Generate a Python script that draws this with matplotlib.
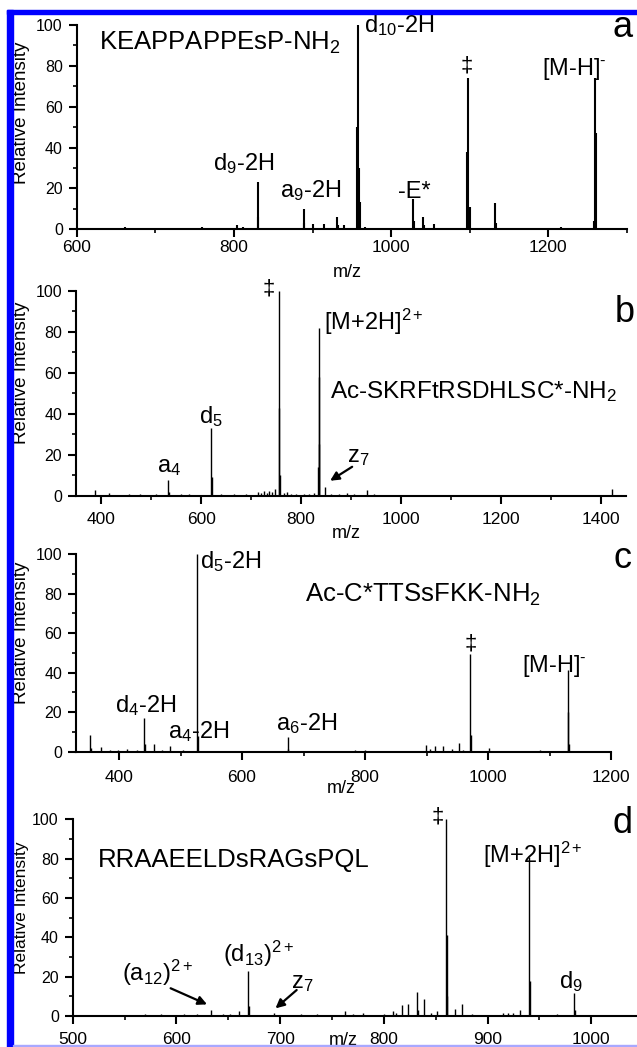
import matplotlib
matplotlib.use("Agg")
import matplotlib.pyplot as plt
from matplotlib.patches import Rectangle
from matplotlib.ticker import MultipleLocator

plt.rcParams["font.family"] = ["Liberation Sans", "DejaVu Sans"]
plt.rcParams["mathtext.fontset"] = "custom"
plt.rcParams["mathtext.rm"] = "Liberation Sans"
plt.rcParams["mathtext.it"] = "Liberation Sans:italic"
plt.rcParams["mathtext.bf"] = "Liberation Sans:bold"

# ---- peak lists (m/z, relative intensity) ----
mz_a = [661, 664, 680, 759, 768, 786, 803.7, 811, 817, 830, 831, 860.5, 870, 878,
        888.5, 889.5, 900, 914, 931, 932, 940.5, 956.8, 958, 959, 960.5, 967, 975,
        1000, 1021, 1027.5, 1028.5, 1041, 1042, 1055, 1097, 1098, 1100, 1132, 1133,
        1143, 1180, 1215.5, 1258.6, 1259.4, 1260.3]
int_a = [1.2, 0.8, 0.6, 1.0, 0.8, 0.7, 2.2, 1.0, 0.5, 23.3, 6, 0.7, 0.5, 0.6,
         9.8, 3, 2.5, 2.5, 6.2, 2, 2, 50, 100, 30, 13.5, 1.2, 0.6,
         0.8, 0.5, 14.7, 4, 5.9, 2, 2.6, 38, 74, 11, 12.7, 3,
         0.5, 0.3, 1.0, 4, 74, 47]

mz_b = [388, 416, 455, 478, 510, 534.6, 535.5, 560, 575, 620, 621, 640, 665, 690,
        714, 720, 726, 731, 736, 742, 747, 756, 756.5, 757.3, 765, 772.5, 780, 790,
        805.6, 815.5, 825, 834.4, 835.4, 835.9, 836.4, 848.7, 860, 875, 892, 905,
        932, 945.5, 960, 1010, 1421]
int_b = [2.8, 1.5, 0.8, 0.6, 0.7, 7.7, 2, 1.0, 0.7, 32.9, 9, 0.8, 0.7, 1.0,
         2, 1.5, 2.5, 1.5, 2.5, 2, 3.5, 100, 43, 10, 1.2, 2, 1.0, 0.8,
         1.0, 1.0, 1.5, 14, 82, 58, 25, 4.1, 1.0, 0.8, 1.5, 0.8,
         3, 1.0, 0.5, 0.3, 3.5]

mz_c = [353.5, 354.5, 371.4, 385, 398.4, 413, 430, 440.7, 441.7, 456.5, 470, 482.5,
        504, 527, 528, 545, 600, 650, 674, 675, 700, 735, 760, 783.6, 800, 830, 870,
        899, 906, 913, 926.4, 941.7, 953.6, 960, 971, 972, 1001.6, 1040, 1084.5,
        1110, 1129.7, 1130.7, 1131.7]
int_c = [8.4, 2, 2.5, 0.8, 0.8, 1.2, 0.8, 17.2, 4, 3.9, 0.7, 2.9,
         1.0, 100, 8, 0.5, 0.4, 0.5, 7.3, 1.5, 0.5, 0.5, 0.4, 0.8, 1.0, 0.5, 0.6,
         3.4, 1.2, 3, 2.8, 1.5, 4.2, 1.0, 49.4, 8.5, 2, 0.4, 1.0,
         0.4, 41.3, 20, 4]

mz_d = [555, 570, 585, 600, 607, 620, 633.6, 645, 652, 660.2, 668.9, 669.5, 685,
        694.3, 710, 720, 735.5, 750, 762.9, 770, 779.7, 790, 800, 809.2, 812, 817.7,
        823.6, 831.5, 832.5, 838.5, 845, 851, 860, 860.6, 861.3, 868.7, 875.7, 885,
        900, 914.9, 919.6, 924.3, 931.4, 940, 940.6, 950, 966.7, 983.6, 984.3,
        1000, 1020]
int_d = [0.7, 1.0, 0.8, 0.6, 1.0, 0.8, 3, 1.0, 0.8, 2.5, 23, 5, 0.6,
         1.5, 0.6, 0.8, 1.0, 0.6, 2.5, 0.8, 1.5, 0.7, 1.0, 2.5, 1.5, 5.5,
         6, 12, 3, 8.5, 1.5, 2.5, 100, 41, 10, 3.5, 6, 0.8,
         0.6, 1.5, 1.5, 1.5, 3, 81, 18, 0.6, 0.8, 11.5, 3,
         0.4, 0.3]

# ---- annotations: (text, m/z, intensity) ----
labels_a = [
    (r"d$_{\mathregular{9}}$-2H", 773, 29),
    (r"a$_{\mathregular{9}}$-2H", 858, 15.8),
    (r"d$_{\mathregular{10}}$-2H", 965, 96.7),
    (r"-E*", 1009, 15.3),
    (r"[M-H]$^{\text{-}}$", 1192, 75.5),
]
dagger_a = (1096.6, 74.7)
peptide_a = (r"KEAPPAPPEsP-NH$_{\mathregular{2}}$", 629, 87.8, 18.5)

labels_b = [
    (r"a$_{\mathregular{4}}$", 511, 11.7),
    (r"d$_{\mathregular{5}}$", 596, 35.3),
    (r"[M+2H]$^{\mathregular{2+}}$", 845, 80.8),
    (r"z$_{\mathregular{7}}$", 892, 16.4),
]
dagger_b = (736, 95.5)
peptide_b = (r"Ac-SKRFtRSDHLSC*-NH$_{\mathregular{2}}$", 858, 47.5, 17.5)
arrows_b = [((902, 14.1), (858, 7.3))]

labels_c = [
    (r"d$_{\mathregular{4}}$-2H", 393.5, 20.2),
    (r"a$_{\mathregular{4}}$-2H", 479.7, 6.8),
    (r"d$_{\mathregular{5}}$-2H", 531.8, 92.8),
    (r"a$_{\mathregular{6}}$-2H", 655.4, 11),
    (r"[M-H]$^{\text{-}}$", 1055.7, 40.5),
]
dagger_c = (971.6, 49.4)
peptide_c = (r"Ac-C*TTSsFKK-NH$_{\mathregular{2}}$", 702.6, 75.9, 18.5)

labels_d = [
    (r"(a$_{\mathregular{12}}$)$^{\mathregular{2+}}$", 547.6, 17.8),
    (r"(d$_{\mathregular{13}}$)$^{\mathregular{2+}}$", 645, 27.5),
    (r"z$_{\mathregular{7}}$", 710, 14.1),
    (r"[M+2H]$^{\mathregular{2+}}$", 895.3, 77.8),
    (r"d$_{\mathregular{9}}$", 968.6, 14.1),
]
dagger_d = (852, 95.6)
peptide_d = ("RRAAEELDsRAGsPQL", 523.9, 75.9, 18.5)
arrows_d = [((594.4, 14.1), (629.5, 5.9)), ((715.9, 13.2), (695.5, 3.9))]

W, H = 637, 1047
fig = plt.figure(figsize=(W / 100, H / 100), dpi=100)


def rect(left, right, top, bottom):
    return [left / W, 1 - bottom / H, (right - left) / W, (bottom - top) / H]


panels = [
    dict(r=rect(76.7, 627, 25, 229.3), xlim=(600, 1300), step=200, mz=mz_a, it=int_a,
         labels=labels_a, dagger=dagger_a, pep=peptide_a, arrows=[], lw=1.5,
         xpad=2, xl=(0.491, -0.172), yl=(30, 0.57), ylfs=13.5,
         letter=("a", 613, 37)),
    dict(r=rect(76, 626.3, 290.7, 495.7), xlim=(350, 1450), step=200, mz=mz_b, it=int_b,
         labels=labels_b, dagger=dagger_b, pep=peptide_b, arrows=arrows_b, lw=1.0,
         xpad=6, xl=(0.492, -0.142), yl=(30, 0.6), ylfs=13.5,
         letter=("b", 615, 321.7)),
    dict(r=rect(76, 611, 554, 751.7), xlim=(330, 1200), step=200, mz=mz_c, it=int_c,
         labels=labels_c, dagger=dagger_c, pep=peptide_c, arrows=[], lw=1.0,
         xpad=7.5, xl=(0.495, -0.142), yl=(30, 0.6), ylfs=13.5,
         letter=("c", 613.7, 568.3)),
    dict(r=rect(72.7, 637, 819.3, 1016), xlim=(500, 1044), step=100, mz=mz_d, it=int_d,
         labels=labels_d, dagger=dagger_d, pep=peptide_d, arrows=arrows_d, lw=1.0,
         xpad=6, xl=(0.479, -0.08), yl=(29, 0.55), ylfs=12.5,
         letter=("d", 613, 833.3)),
]

ION_FS = 17

for p in panels:
    ax = fig.add_axes(p["r"])
    ax.vlines(p["mz"], 0, p["it"], color="k", lw=p["lw"])
    ax.set_xlim(*p["xlim"])
    ax.set_ylim(0, 100)
    for s in ("top", "right"):
        ax.spines[s].set_visible(False)
    for s in ("left", "bottom"):
        ax.spines[s].set_linewidth(1.5)
    ax.xaxis.set_major_locator(MultipleLocator(p["step"]))
    ax.xaxis.set_minor_locator(MultipleLocator(p["step"] / 2))
    ax.yaxis.set_major_locator(MultipleLocator(20))
    ax.yaxis.set_minor_locator(MultipleLocator(10))
    ax.tick_params(which="major", direction="out", length=5.5, width=1.5)
    ax.tick_params(which="minor", direction="out", length=3, width=1.2)
    ax.tick_params(axis="x", which="major", pad=p["xpad"], labelsize=12.5)
    ax.tick_params(axis="y", which="major", pad=4.5, labelsize=11.5)
    ax.set_xlabel("m/z", fontsize=13)
    ax.xaxis.set_label_coords(*p["xl"])
    ax.set_ylabel("Relative Intensity", fontsize=p["ylfs"])
    # label x given in figure pixels, converted to axes fraction
    ax_left = p["r"][0] * W
    ax_w = p["r"][2] * W
    ax.yaxis.set_label_coords((p["yl"][0] - ax_left) / ax_w, p["yl"][1])

    for txt, x, y in p["labels"]:
        ax.text(x, y, txt, fontsize=ION_FS, ha="left", va="baseline")
    ax.text(p["dagger"][0], p["dagger"][1], "\u2021", fontsize=16,
            ha="center", va="bottom")
    ptxt, px, py, pfs = p["pep"]
    ax.text(px, py, ptxt, fontsize=pfs, ha="left", va="baseline")
    for tail, head in p["arrows"]:
        ax.annotate("", xy=head, xytext=tail,
                    arrowprops=dict(arrowstyle="-|>", color="k", lw=1.6,
                                    mutation_scale=13, shrinkA=0, shrinkB=0))
    l, lx, ly = p["letter"]
    fig.text(lx / W, 1 - ly / H, l, fontsize=26, ha="left", va="baseline")

# blue frame around the figure
fig.patches.append(Rectangle((7 / W, 0), 6 / W, 1 - 10 / H, transform=fig.transFigure,
                             color="#0000ff", zorder=10))
fig.patches.append(Rectangle((7 / W, 1 - 14 / H), 1, 4 / H, transform=fig.transFigure,
                             color="#0000ff", zorder=10))
fig.patches.append(Rectangle((13 / W, 1 - 1046 / H), 1, 1.5 / H, transform=fig.transFigure,
                             color="#a8a8ff", zorder=10))

fig.savefig("out.png", dpi=100)
